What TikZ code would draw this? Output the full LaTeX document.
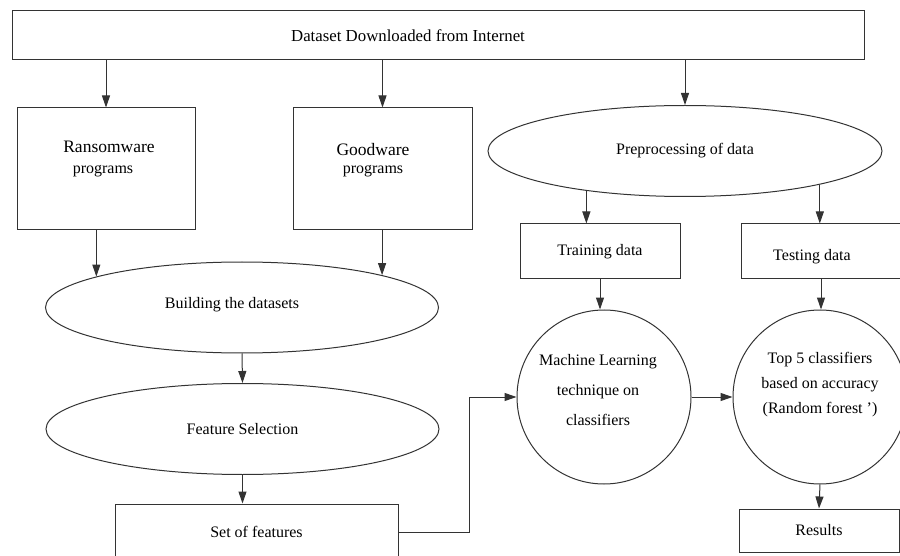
\documentclass[tikz,border=0pt]{standalone}
\usepackage{fontspec}
\setmainfont{Liberation Serif}
\usetikzlibrary{shapes.geometric, arrows.meta, positioning, calc}

\tikzset{
  box/.style={draw=black!80, line width=1pt, rectangle, font=\fontsize{16}{19}\selectfont},
  oval/.style={draw=black!80, line width=1pt, ellipse, minimum width=393pt, minimum height=91pt, font=\fontsize{16}{19}\selectfont},
  circ/.style={draw=black!80, line width=1pt, circle, minimum size=174pt},
  txt/.style={font=\fontsize{16}{19}\selectfont, inner sep=0pt},
  arr/.style={-{Triangle[length=12pt,width=8pt]}, draw=black!80, line width=1pt}
}

\begin{document}
\begin{tikzpicture}[x=1pt, y=-1pt]
\useasboundingbox (0,0) rectangle (900,556);
% Source of the data
\node[box, minimum width=852pt, minimum height=49pt] (data) at (438,35.5) {};
\node[txt, font=\fontsize{16.8}{20}\selectfont] (datatxt) at (408,36) {Dataset Downloaded from Internet};

% Left branch
\node[box, minimum width=178pt, minimum height=122pt] (ransom) at (106,169) {};
\node[txt, font=\fontsize{17.5}{20}\selectfont] (ransomtxt) at (109,147) {Ransomware};
\node[txt] (ransomsub) at (103,171) {programs};
\node[box, minimum width=179pt, minimum height=122pt] (good) at (382.5,169) {};
\node[txt, font=\fontsize{17.5}{20}\selectfont] (goodtxt) at (373,150) {Goodware};
\node[txt] (goodsub) at (373,171) {programs};
\node[oval] (build) at (242,307.5) {};
\node[txt] (buildtxt) at (232,305) {Building the datasets};
\node[oval] (feat) at (242.5,429) {Feature Selection};
\node[box, minimum width=283pt, minimum height=56pt] (setf) at (256.5,532) {Set of features};

% Right branch
\node[oval, minimum width=394pt] (prep) at (685,151) {Preprocessing of data};
\node[box, minimum width=160pt, minimum height=55pt] (train) at (600,251.5) {Training data};
\node[box, minimum width=160pt, minimum height=55pt] (test) at (821,251.5) {};
\node[txt] (testtxt) at (812,257) {Testing data};
\node[circ] (ml) at (604,397) {};
\node[txt, align=center, font=\fontsize{16}{30}\selectfont] (mltxt) at (598,390) {Machine Learning\\technique on\\classifiers};
\node[circ] (top) at (820,397) {};
\node[txt, align=center, font=\fontsize{16}{25}\selectfont] (toptxt) at (820,385) {Top 5 classifiers\\based on accuracy\\(Random forest ')};
\node[box, minimum width=160pt, minimum height=43pt] (res) at (819,530.5) {Results};
\coordinate (bend) at (469,397);

% Connectors
\draw[arr] (data.south -| ransom.north) -- (ransom.north);
\draw[arr] (data.south -| good.north) -- (good.north);
\draw[arr] (data.south -| prep.north) -- (prep.north);
\draw[arr] (ransom.south -| build.168) -- (build.168);
\draw[arr] (good.south -| build.13) -- (build.13);
\draw[arr] (build.south) -- (feat.north);
\draw[arr] (feat.south) -- (feat.south |- setf.north);
\draw[arr] (prep.202) -- (prep.202 |- train.north);
\draw[arr] (prep.346) -- (prep.346 |- test.north);
\draw[arr] (train.south) -- (train.south |- ml.north);
\draw[arr] (test.south) -- (test.south |- top.north);
\draw[arr] (setf.east) -| (bend) -- (ml.west);
\draw[arr] (ml.east) -- (top.west);
\draw[arr] (top.south) -- (res.north);
\end{tikzpicture}
\end{document}
